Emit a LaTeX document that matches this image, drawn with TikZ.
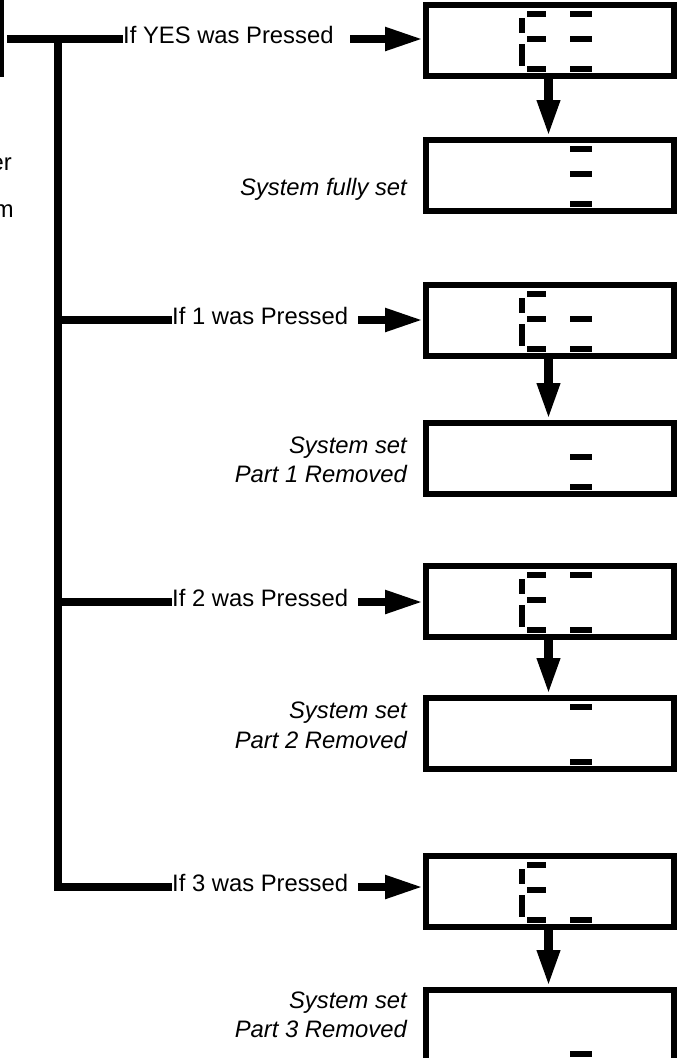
\documentclass[tikz,border=0pt]{standalone}
\usepackage{fontspec}
\setmainfont{Liberation Sans}
\usetikzlibrary{arrows.meta}
\newcommand\SgAt{\fill (104,9) rectangle (123,14.5);}
\newcommand\SgAul{\fill (96,16) rectangle (102,31);}
\newcommand\SgAm{\fill (104,34) rectangle (123,39.5);}
\newcommand\SgAll{\fill (96,41.5) rectangle (102,63.5);}
\newcommand\SgAb{\fill (104,64) rectangle (123,69.5);}
\newcommand\SgE{\SgAt\SgAul\SgAm\SgAll\SgAb}
\newcommand\SgBt{\fill (147,9) rectangle (169,14.5);}
\newcommand\SgBm{\fill (147,34) rectangle (169,39.5);}
\newcommand\SgBb{\fill (147,64) rectangle (169,69.5);}
\begin{document}
\begin{tikzpicture}[x=1pt,y=-1pt,
  disp/.style={draw, line width=6pt, minimum width=248pt, minimum height=71pt, inner sep=0pt},
  lbl/.style={inner sep=0pt, font=\fontsize{23.8}{28}\selectfont},
  ilbl/.style={lbl, font=\fontsize{23.8}{28}\selectfont\itshape, anchor=base east},
  trunk/.style={line width=8.5pt},
  harrow/.style={line width=8pt, -{Triangle[length=38pt,width=22pt]}},
  varrow/.style={line width=9pt, -{Triangle[length=37pt,width=21pt]}}]
\useasboundingbox (0,0) rectangle (677,1058);
% partial items at the left edge
\fill (0,0) rectangle (4.3,77);
\node[lbl, anchor=base east] (fr1) at (12,170) {er};
\node[lbl, anchor=base east] (fr2) at (14,217) {m};
% display boxes
\node[disp] (b1) at (550,40.5) {};
\node[disp] (b2) at (550,175.5) {};
\node[disp] (b3) at (550,320.5) {};
\node[disp] (b4) at (550,458.5) {};
\node[disp] (b5) at (550,601.5) {};
\node[disp] (b6) at (550,733.5) {};
\node[disp] (b7) at (550,891.5) {};
\node[disp] (b8) at (550,1025.5) {};
\begin{scope}[shift={(423,2)}]\SgE\SgBt\SgBm\SgBb\end{scope}
\begin{scope}[shift={(423,137)}]\SgBt\SgBm\SgBb\end{scope}
\begin{scope}[shift={(423,282)}]\SgE\SgBm\SgBb\end{scope}
\begin{scope}[shift={(423,420)}]\SgBm\SgBb\end{scope}
\begin{scope}[shift={(423,563)}]\SgE\SgBt\SgBb\end{scope}
\begin{scope}[shift={(423,695)}]\SgBt\SgBb\end{scope}
\begin{scope}[shift={(423,853)}]\SgE\SgBb\end{scope}
\begin{scope}[shift={(423,987)}]\SgBb\end{scope}
% branch labels
\node[lbl, anchor=base west] (t0) at (123,43.5) {If YES was Pressed};
\node[lbl, anchor=base west] (t1) at (172,324.5) {If 1 was Pressed};
\node[lbl, anchor=base west] (t2) at (172,606.5) {If 2 was Pressed};
\node[lbl, anchor=base west] (t3) at (172,891.5) {If 3 was Pressed};
% result labels
\node[ilbl] (r2) at (407,195) {System fully set};
\node[ilbl] (r4a) at (407,453) {System set};
\node[ilbl] (r4b) at (407,482) {Part 1 Removed};
\node[ilbl] (r6a) at (407,718) {System set};
\node[ilbl] (r6b) at (407,748) {Part 2 Removed};
\node[ilbl] (r8a) at (407,1008) {System set};
\node[ilbl] (r8b) at (407,1037) {Part 3 Removed};
% tree lines
\coordinate (s0) at (7,39);
\coordinate (j0) at (58,39);
\coordinate (j1) at (58,320);
\coordinate (j2) at (58,602);
\coordinate (j3) at (58,887);
\draw[trunk] (s0) -- (t0.west |- s0);
\draw[trunk] (j0) -- (j3) -- (t3.west |- j3);
\draw[trunk] (j1) -- (t1.west |- j1);
\draw[trunk] (j2) -- (t2.west |- j2);
% arrows to displays
\coordinate (a0) at (350,39);
\coordinate (a1) at (358,320);
\coordinate (a2) at (358,602);
\coordinate (a3) at (358,887);
\draw[harrow] (a0) -- (b1.west |- a0);
\draw[harrow] (a1) -- (b3.west |- a1);
\draw[harrow] (a2) -- (b5.west |- a2);
\draw[harrow] (a3) -- (b7.west |- a3);
\draw[varrow] ([xshift=-1.5pt]b1.south) -- ([xshift=-1.5pt]b2.north);
\draw[varrow] ([xshift=-1.5pt]b3.south) -- ([xshift=-1.5pt]b4.north);
\draw[varrow] ([xshift=-1.5pt]b5.south) -- ([xshift=-1.5pt]b6.north);
\draw[varrow] ([xshift=-1.5pt]b7.south) -- ([xshift=-1.5pt]b8.north);
\end{tikzpicture}
\end{document}
